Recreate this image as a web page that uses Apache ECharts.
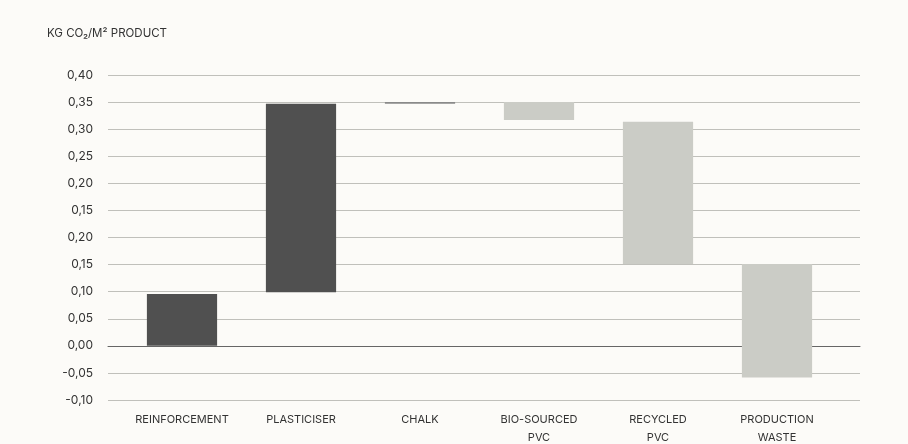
<!DOCTYPE html>
<html>
<head>
<meta charset="utf-8">
<script src="https://cdn.jsdelivr.net/npm/echarts@6/dist/echarts.min.js"></script>
<style>
  html, body { margin: 0; padding: 0; background: #fcfbf8; }
  #chart { width: 908px; height: 444px; }
</style>
</head>
<body>
<div id="chart"></div>
<script>
// steps of the waterfall, in axis units
var categories = ['REINFORCEMENT', 'PLASTICISER', 'CHALK', 'BIO-SOURCED\nPVC', 'RECYCLED\nPVC', 'PRODUCTION\nWASTE']
var stepLow = [0, 0.099, 0.447, 0.417, 0.151, -0.0585]
var stepHigh = [0.0955, 0.447, 0.450, 0.450, 0.4135, 0.151]
// tick labels as printed on the original, bottom to top
var yTickLabels = ['-0,10', '-0,05', '0,00', '0,05', '0,10', '0,15', '0,20', '0,15', '0,20', '0,25', '0,30', '0,35', '0,40']

var barColors = ['#505050', '#505050', '#8a8a8a', '#cbccc6', '#cbccc6', '#cbccc6']
var font = 'Inter, Roboto, "Liberation Sans", sans-serif'

var chart = echarts.init(document.getElementById('chart'))

var option = {
  backgroundColor: '#fcfbf8',
  animation: false,
  title: {
    text: 'KG CO₂/M² PRODUCT',
    left: 42,
    top: 23,
    textStyle: { fontSize: 11.5, fontWeight: 'normal', color: '#333', fontFamily: font }
  },
  grid: [
    { left: 108, right: 48, top: 75, bottom: 44, outerBoundsMode: 'none' },
    { left: 122.5, right: 71.5, top: 75, bottom: 44, outerBoundsMode: 'none' }
  ],
  xAxis: [
    {
      gridIndex: 0,
      type: 'value',
      min: 0,
      max: 1,
      axisLine: { show: true, onZero: true, lineStyle: { color: '#666', width: 1 } },
      axisTick: { show: false },
      axisLabel: { show: false },
      splitLine: { show: false }
    },
    {
      gridIndex: 1,
      type: 'category',
      data: categories,
      axisLine: { show: false },
      axisTick: { show: false },
      axisLabel: {
        interval: 0,
        margin: 11,
        fontSize: 11,
        lineHeight: 18,
        color: '#333',
        fontFamily: font
      }
    }
  ],
  yAxis: [
    {
      gridIndex: 0,
      type: 'value',
      min: -0.1,
      max: 0.5,
      interval: 0.05,
      axisLine: { show: false },
      axisTick: { show: false },
      axisLabel: {
        margin: 15,
        fontSize: 12,
        color: '#333',
        fontFamily: font,
        formatter: function(v) {
          var i = Math.round((v + 0.1) / 0.05)
          return yTickLabels[i] || ''
        }
      },
      splitLine: { lineStyle: { color: '#c0c0bb', width: 1 } }
    },
    {
      gridIndex: 1,
      type: 'value',
      min: -0.1,
      max: 0.5,
      interval: 0.05,
      show: false,
      splitLine: { show: false }
    }
  ],
  series: [
    {
      type: 'custom',
      xAxisIndex: 1,
      yAxisIndex: 1,
      data: categories.map(function(c, i) {
        return [i, stepLow[i], stepHigh[i]]
      }),
      renderItem: function(params, api) {
        var i = api.value(0)
        var lo = api.coord([i, api.value(1)])
        var hi = api.coord([i, api.value(2)])
        var w = api.size([1, 0])[0] * 0.59
        return {
          type: 'rect',
          shape: { x: lo[0] - w / 2, y: hi[1], width: w, height: Math.max(lo[1] - hi[1], 1.5) },
          style: { fill: barColors[i] }
        }
      }
    }
  ]
}

chart.setOption(option)
</script>
</body>
</html>
